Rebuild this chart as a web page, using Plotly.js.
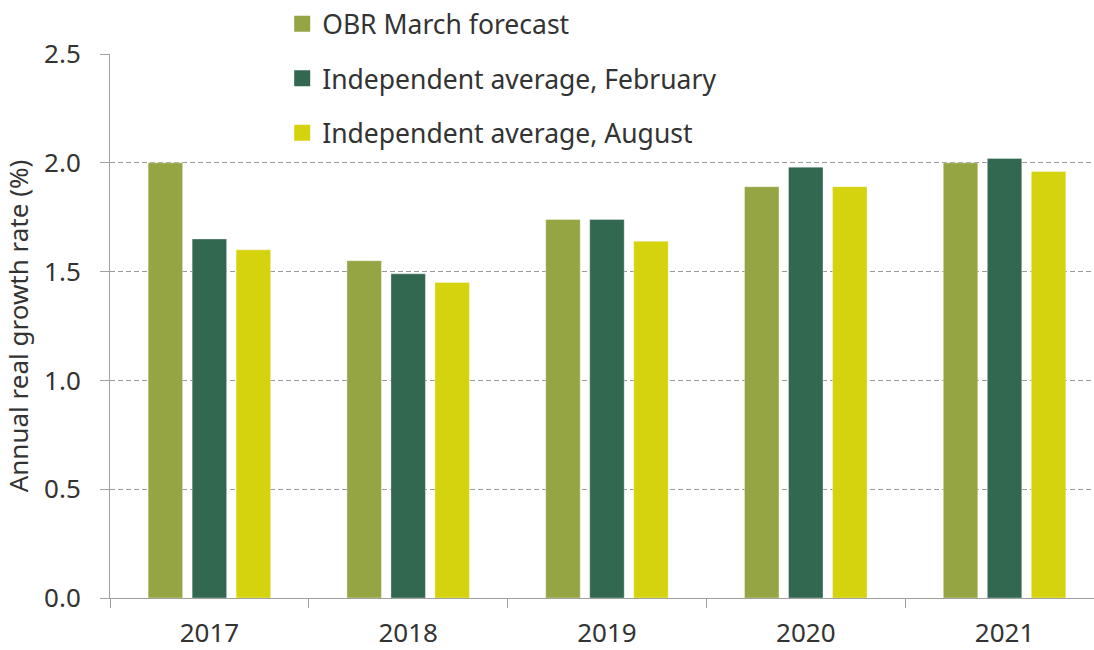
<!DOCTYPE html>
<html>
<head>
<meta charset="utf-8">
<script src="https://cdn.plot.ly/plotly-3.0.1.min.js"></script>
<style>
html,body{margin:0;padding:0;background:#fff;}
#chart{width:1094px;height:650px;}
</style>
</head>
<body>
<div id="chart"></div>
<script>
const years = ['2017', '2018', '2019', '2020', '2021'];
const obrMarch = [2.0, 1.55, 1.74, 1.89, 2.0];
const indepFeb = [1.65, 1.49, 1.74, 1.98, 2.02];
const indepAug = [1.6, 1.45, 1.64, 1.89, 1.96];
const seriesNames = ['OBR March forecast', 'Independent average, February', 'Independent average, August'];
const seriesColors = ['#95a543', '#336850', '#d5d20e'];
const yTicks = [0, 0.5, 1.0, 1.5, 2.0, 2.5];
const yTickText = ['0.0', '0.5', '1.0', '1.5', '2.0', '2.5'];

const seriesValues = [obrMarch, indepFeb, indepAug];
const traces = [];
seriesValues.forEach((vals, i) => {
  traces.push({
    type: 'bar',
    x: years,
    y: vals,
    name: seriesNames[i],
    marker: {color: seriesColors[i], line: {color: 'rgba(255,255,255,0.35)', width: 1}},
    showlegend: false,
    hoverinfo: 'x+y'
  });
});
seriesValues.forEach((vals, i) => {
  traces.push({
    type: 'scatter',
    mode: 'markers',
    x: [null],
    y: [null],
    name: seriesNames[i],
    legendgroup: 'g' + i,
    marker: {color: seriesColors[i], symbol: 'square', size: 16},
    showlegend: true
  });
});

const layout = {
  width: 1094,
  height: 650,
  margin: {l: 110, r: 0, t: 54, b: 52},
  paper_bgcolor: '#ffffff',
  plot_bgcolor: '#ffffff',
  font: {family: '"Noto Sans", sans-serif', color: '#333333', size: 26},
  barmode: 'group',
  bargap: 0.336,
  bargroupgap: 0.216,
  xaxis: {
    type: 'category',
    range: [-0.5, 4.45],
    tickson: 'boundaries',
    ticks: 'outside',
    ticklen: 9,
    tickcolor: '#a0a0a0',
    showline: true,
    linecolor: '#a0a0a0',
    linewidth: 1,
    showgrid: false,
    zeroline: false,
    ticklabelstandoff: 12,
    tickfont: {size: 26, color: '#333333'},
    fixedrange: true
  },
  yaxis: {
    range: [0, 2.5],
    tickvals: yTicks,
    ticktext: yTickText,
    ticks: 'outside',
    ticklen: 9,
    tickcolor: '#a0a0a0',
    showline: true,
    linecolor: '#a0a0a0',
    linewidth: 1,
    showgrid: true,
    gridcolor: '#9a9a9a',
    gridwidth: 1,
    griddash: '5px,3px',
    zeroline: false,
    ticklabelstandoff: 14,
    tickfont: {size: 26, color: '#333333'},
    title: {text: 'Annual real growth rate (%)', font: {size: 26, color: '#333333'}, standoff: 10},
    fixedrange: true
  },
  showlegend: true,
  legend: {
    x: 0.175,
    xanchor: 'left',
    y: 1.1,
    yanchor: 'top',
    bgcolor: 'rgba(0,0,0,0)',
    font: {size: 26.5, color: '#333333'},
    itemsizing: 'trace',
    tracegroupgap: 17
  }
};

Plotly.newPlot('chart', traces, layout, {displayModeBar: false, staticPlot: true});
</script>
</body>
</html>
